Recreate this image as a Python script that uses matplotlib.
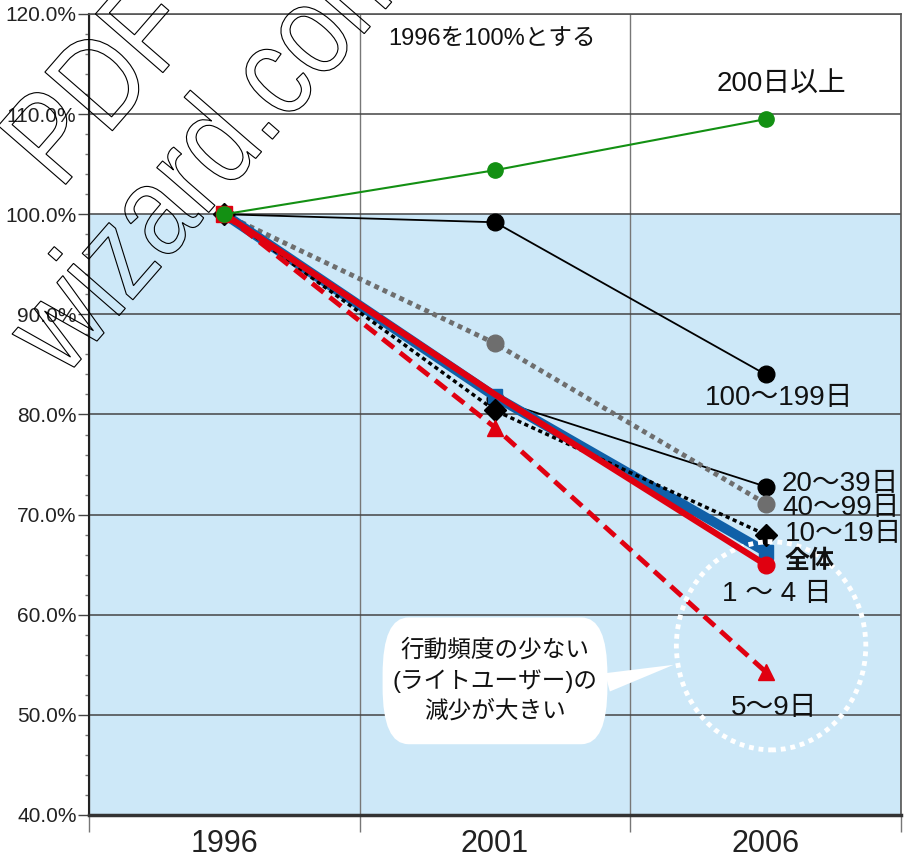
import matplotlib
matplotlib.use('Agg')
import matplotlib.pyplot as plt
from matplotlib.patches import Ellipse, PathPatch
from matplotlib.textpath import TextPath
from matplotlib.font_manager import FontProperties
from matplotlib.transforms import Affine2D, IdentityTransform
from matplotlib.ticker import FuncFormatter, MultipleLocator, FixedLocator

plt.rcParams['font.family'] = ['Liberation Sans', 'Noto Sans CJK JP']

# 1996 = 100%
years = ['1996', '2001', '2006']
days_200 = [100, 104.4, 109.5]   # 200日以上
days_100 = [100, 99.2, 84.0]     # 100〜199日
days_40 = [100, 87.1, 71.1]      # 40〜99日
days_20 = [100, 81.5, 72.8]      # 20〜39日
days_10 = [100, 80.4, 68.0]      # 10〜19日
total = [100, 81.8, 66.3]        # 全体
days_1 = [100, 82.0, 65.0]       # 1〜4日
days_5 = [100, 78.7, 54.3]       # 5〜9日

fig = plt.figure(figsize=(9.1, 8.59), dpi=100)
ax = fig.add_axes([89 / 910, 44 / 859, 812 / 910, 801 / 859])
x = list(range(len(years)))

ax.set_xlim(-0.5, 2.5)
ax.set_ylim(40, 120)
ax.axhspan(40, 100, color='#cde8f8', zorder=0)

# grid: horizontal every 10%, vertical on category boundaries
ax.set_axisbelow(True)
ax.set_yticks(range(40, 121, 10))
ax.yaxis.set_minor_locator(MultipleLocator(2))
ax.yaxis.set_major_formatter(FuncFormatter(lambda v, _: f'{v:.1f}%'))
ax.set_xticks([-0.5, 0.5, 1.5, 2.5])
ax.xaxis.set_minor_locator(FixedLocator(x))
ax.set_xticklabels([])
ax.set_xticklabels(years, minor=True)
ax.grid(axis='y', which='major', color='#444444', lw=1.1)
ax.grid(axis='x', which='major', color='#777777', lw=1.0)

ax.tick_params(axis='y', which='major', length=8, width=1, color='#444444',
               labelsize=15, pad=1, labelcolor='#222222')
ax.tick_params(axis='y', which='minor', length=3, width=1, color='#777777')
ax.tick_params(axis='x', which='major', length=12, width=1, color='#777777')
ax.tick_params(axis='x', which='minor', length=0, labelsize=22, pad=10,
               labelcolor='#222222')

ax.spines['left'].set_color('#222222')
ax.spines['left'].set_linewidth(1.5)
ax.spines['bottom'].set_color('#333333')
ax.spines['bottom'].set_linewidth(2.5)
for side in ('top', 'right'):
    ax.spines[side].set_color('#555555')
    ax.spines[side].set_linewidth(1.2)

# series
ax.plot(x, days_100, color='black', lw=1.3, marker='o', ms=12, zorder=3)
ax.plot(x, days_20, color='black', lw=1.3, marker='o', ms=12, zorder=3)
ax.plot(x, days_40, color='#6e6e6e', lw=3.5, ls=(0, (1, 0.9)),
        marker='o', ms=12, zorder=3)
ax.plot(x, total, color='#1060a8', lw=7, marker='s', ms=10, zorder=4)
ax.plot(x, days_10, color='black', lw=2.5, ls=(0, (1.2, 1.0)),
        marker='D', ms=11, zorder=4)
ax.plot(x, days_5, color='#e00010', lw=3.5, ls=(0, (3, 1.6)),
        marker='^', ms=12, markevery=[1, 2], zorder=5)
ax.plot(x, days_1, color='#e00010', lw=4.5, marker='o', ms=12,
        markevery=[2], zorder=6)
ax.plot(x[:1], days_1[:1], color='#e00010', marker='s', ms=12, ls='none',
        zorder=6)
ax.plot(x, days_200, color='#139013', lw=1.5, marker='o', ms=11, zorder=7)

# dotted ring round the 2006 light-user points
ax.add_patch(Ellipse((2.02, 56.9), 0.70, 20.8, fill=False, ec='white',
                     lw=3.5, ls=(0, (1, 1)), zorder=5.5))

# series labels
lab = dict(fontsize=20, color='#111111', zorder=9)
ax.text(2.06, 112.9, '200日以上', ha='center', va='center', **lab)
ax.text(2.05, 81.6, '100〜199日', ha='center', va='center', **lab)
ax.text(2.06, 73.1, '20〜39日', ha='left', va='center', **lab)
ax.text(2.06, 70.7, '40〜99日', ha='left', va='center', **lab)
ax.text(2.07, 68.1, '10〜19日', ha='left', va='center', **lab)
ax.text(2.07, 65.4, '全体', ha='left', va='center', fontsize=18,
        fontweight='bold', color='#111111', zorder=9)
ax.text(2.04, 62.1, '1 〜 4 日', ha='center', va='center', **lab)
ax.text(2.03, 50.7, '5〜9日', ha='center', va='center', **lab)
ax.text(0.99, 117.4, '1996を100%とする', ha='center', va='center',
        fontsize=17, color='#111111')

# callout
ax.annotate('行動頻度の少ない\n(ライトユーザー)の\n減少が大きい',
            xy=(1.66, 55.0), xytext=(1.0, 53.4),
            ha='center', va='center', fontsize=17, linespacing=1.4,
            multialignment='center', color='#111111', zorder=9,
            bbox=dict(boxstyle='round,pad=0.42,rounding_size=1.1',
                      mutation_aspect=2.2, fc='white', ec='none'),
            arrowprops=dict(arrowstyle='wedge,tail_width=0.8,shrink_factor=0.5',
                            fc='white', ec='none', relpos=(1, 0.45),
                            shrinkA=0, shrinkB=0))

# outline watermark
wm_font = FontProperties(family='Liberation Sans')
for txt, (px, py) in [('PDF', (60, 668)), ('wizard.com', (64, 480))]:
    tp = TextPath((0, 0), txt, size=130, prop=wm_font)
    tr = Affine2D().scale(0.82, 1).rotate_deg(49).translate(px, py)
    fig.add_artist(PathPatch(tr.transform_path(tp), transform=IdentityTransform(),
                             fill=False, ec='black', lw=0.8, zorder=10))

fig.savefig('out.png', dpi=100)
